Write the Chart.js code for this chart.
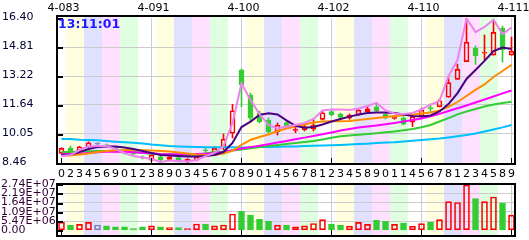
<!DOCTYPE html>
<html>
<head>
<meta charset="utf-8">
<script src="https://cdn.jsdelivr.net/npm/chart.js@4.4.0/dist/chart.umd.min.js"></script>
<style>
  html, body { margin: 0; padding: 0; background: #fff; }
  #wrap { position: relative; width: 529px; height: 240px; }
  canvas { position: absolute; left: 0; top: 0; }
</style>
</head>
<body>
<div id="wrap">
  <canvas id="priceChart" width="529" height="240"></canvas>
  <canvas id="volChart" width="529" height="240"></canvas>
</div>
<script>
// last digit of each trading day
const days = ['0','2','3','4','5','6','9','0','1','2','3','8','9','0',
  '3','4','5','6','7','0','8','9','0','1','4','5','6','7','8','1','2','3','4',
  '5','8','9','0','1','1','4','5','6','7','8','1','2','3','4','5','8','9'];
// date labels over every 10th bar
const topLabels = ['4-083', '4-091', '4-100', '4-102', '4-110', '4-111'];
const clockText = '13:11:01';

const opens  = [8.99,9.26,9.13,9.32,9.50,9.45,9.32,9.17,9.02,8.80,8.62,8.80,8.66,8.75,8.53,8.62,9.15,9.00,9.28,10.09,13.55,12.18,11.20,10.81,10.17,10.67,10.25,10.27,10.31,10.85,11.27,11.14,10.91,11.09,11.27,11.54,11.14,10.90,10.92,10.69,11.03,11.47,11.54,12.06,13.04,14.01,14.74,14.48,14.37,15.84,14.37];
const highs  = [9.30,9.39,9.38,9.62,9.57,9.50,9.35,9.20,9.05,8.85,8.95,8.85,8.85,8.80,8.70,8.85,9.26,9.35,10.05,11.67,13.61,12.29,11.30,10.92,10.65,10.75,10.45,10.54,10.91,11.31,11.35,11.20,11.15,11.45,11.53,11.69,11.20,11.05,10.98,11.03,11.47,11.69,11.96,13.19,13.88,16.40,14.87,15.47,16.29,15.96,15.36];
const lows   = [8.95,9.10,9.10,9.30,9.39,9.35,9.12,8.95,8.92,8.68,8.55,8.48,8.60,8.52,8.48,8.58,9.05,8.95,9.17,9.83,11.54,10.72,10.65,10.10,9.99,10.40,10.12,10.21,10.21,10.81,11.05,10.90,10.85,11.05,11.20,11.25,10.87,10.85,10.54,10.45,10.98,11.27,11.53,12.06,13.04,14.01,13.86,14.10,14.37,13.99,14.37];
const closes = [9.26,9.13,9.35,9.57,9.50,9.39,9.17,8.99,8.96,8.72,8.90,8.62,8.80,8.59,8.66,8.80,9.13,9.26,9.77,11.32,12.73,10.91,10.72,10.17,10.54,10.45,10.27,10.45,10.54,11.21,11.09,10.96,11.09,11.36,11.42,11.32,10.91,10.98,10.58,11.00,11.36,11.44,11.87,12.86,13.59,15.07,14.34,14.51,15.61,14.65,14.59];
const volumes = [4.8e6,3.2e6,3.6e6,4.7e6,3.2e6,2.7e6,2.1e6,2.1e6,1.1e6,2.1e6,2.7e6,2.1e6,1.6e6,1.6e6,1.1e6,3.8e6,3.8e6,2.7e6,3.2e6,9.7e6,11.3e6,9.1e6,6.6e6,5.4e6,3.1e6,3.2e6,2.1e6,2.7e6,4.1e6,6.4e6,3.8e6,3.2e6,2.5e6,4.7e6,3.6e6,5.9e6,5.4e6,3.6e6,4.3e6,2.5e6,4.0e6,4.8e6,6.4e6,17.0e6,16.5e6,26.8e6,18.8e6,17.0e6,19.7e6,16.1e6,9.0e6];

// moving average lines, fastest first
const maFast = [8.84,8.90,9.17,9.36,9.39,9.39,9.23,9.01,8.84,8.76,8.68,8.52,8.60,8.57,8.54,8.62,8.84,9.01,9.39,10.65,12.81,11.91,11.14,10.54,10.35,10.46,10.54,10.65,10.87,11.34,11.39,11.39,11.36,11.44,11.58,11.75,11.34,11.17,11.14,11.20,11.39,11.66,11.86,13.22,14.10,16.37,15.63,15.91,16.31,15.52,15.88];
const ma5  = [8.90,8.93,9.06,9.23,9.34,9.36,9.36,9.31,9.23,9.12,9.01,8.90,8.87,8.84,8.82,8.82,8.84,8.90,9.06,9.56,10.43,10.73,11.09,11.18,11.12,10.79,10.49,10.39,10.43,10.57,10.73,10.87,11.00,11.12,11.20,11.23,11.23,11.20,11.12,11.03,11.00,11.06,11.28,11.69,12.29,13.06,13.55,14.05,14.59,14.78,14.70];
const ma10 = [8.87,8.87,8.93,8.98,9.06,9.12,9.16,9.17,9.17,9.16,9.14,9.12,9.09,9.03,8.98,8.93,8.90,8.90,8.98,9.12,9.45,9.72,9.88,10.02,10.21,10.35,10.46,10.57,10.68,10.73,10.74,10.74,10.76,10.82,10.87,10.92,10.98,11.03,11.08,11.12,11.17,11.23,11.34,11.53,11.80,12.13,12.46,12.76,13.17,13.50,13.83];
const ma20 = [8.95,8.95,8.97,9.01,9.05,9.07,9.08,9.07,9.05,9.02,9.00,8.95,8.94,8.94,8.94,8.95,8.97,8.99,9.06,9.16,9.25,9.33,9.41,9.49,9.58,9.66,9.76,9.85,9.94,10.03,10.13,10.24,10.32,10.40,10.46,10.51,10.58,10.65,10.73,10.81,10.90,11.02,11.15,11.31,11.46,11.61,11.77,11.94,12.10,12.27,12.43];
const ma30 = [9.06,9.06,9.09,9.11,9.12,9.12,9.11,9.09,9.06,9.01,8.97,8.94,8.93,8.91,8.90,8.93,8.98,9.06,9.09,9.14,9.20,9.27,9.33,9.39,9.45,9.50,9.56,9.61,9.66,9.75,9.84,9.92,9.97,10.01,10.05,10.09,10.14,10.19,10.25,10.32,10.42,10.54,10.73,10.92,11.12,11.28,11.42,11.55,11.66,11.75,11.82];
const ma60 = [9.77,9.77,9.73,9.72,9.70,9.66,9.63,9.60,9.57,9.53,9.47,9.43,9.39,9.37,9.35,9.34,9.32,9.32,9.32,9.32,9.31,9.31,9.33,9.34,9.35,9.36,9.37,9.39,9.40,9.42,9.43,9.45,9.47,9.50,9.52,9.55,9.58,9.60,9.64,9.68,9.72,9.76,9.80,9.86,9.92,9.99,10.07,10.18,10.29,10.41,10.54];

const priceTicks = [8.46, 10.05, 11.64, 13.22, 14.81, 16.40];
const volTicks = [0, 5.47e6, 1.09e7, 1.64e7, 2.19e7, 2.74e7];
const volTickLabels = ['0.00', '5.47E+06', '1.09E+07', '1.64E+07', '2.19E+07', '2.74E+07'];

const UP = '#ff0000', DOWN = '#32cd32', FLAT = '#8080a8';
const bandColors = ['#ffffff', '#ffffe0', '#e0e0ff', '#ffe0ff', '#e0ffe0'];
const gridColor = '#cccccc';
const none = 'rgba(0,0,0,0)';
const FONT = '"DejaVu Sans", Verdana, sans-serif';

Chart.defaults.font.family = FONT;
Chart.defaults.font.size = 11;
Chart.defaults.color = '#000';
Chart.defaults.animation = false;

const dir = closes.map((c, i) => Math.sign(c - opens[i]));
const candleColor = dir.map(d => d > 0 ? UP : d < 0 ? DOWN : FLAT);
const candleFill = dir.map(d => d < 0 ? DOWN : none);

// background bands, frame, inner ticks, captions
const panel = {
  id: 'panel',
  beforeDraw(chart, args, opts) {
    const { ctx, scales: { x } } = chart;
    const step = x.getPixelForValue(1) - x.getPixelForValue(0);
    ctx.save();
    days.forEach((d, i) => {
      ctx.fillStyle = bandColors[Math.floor((i + 1) / 2) % 5];
      ctx.fillRect(x.getPixelForValue(i) - step / 2, opts.top, step, opts.bottom - opts.top);
    });
    ctx.restore();
  },
  afterDraw(chart, args, opts) {
    const { ctx, chartArea: a, scales: { x, y } } = chart;
    ctx.save();
    ctx.strokeStyle = '#000';
    ctx.lineWidth = 2;
    ctx.strokeRect(a.left, opts.top, opts.right - a.left, opts.bottom - opts.top);
    ctx.beginPath();
    y.ticks.forEach(t => {
      const py = Math.round(y.getPixelForValue(t.value)) + 1;
      ctx.moveTo(a.left, py);
      ctx.lineTo(a.left + 6, py);
    });
    ctx.stroke();
    ctx.lineWidth = 1;
    ctx.beginPath();
    days.forEach((d, i) => {
      if (i % 10 !== 0) return;
      const px = Math.floor(x.getPixelForValue(i)) + 0.5;
      ctx.moveTo(px, opts.bottom);
      ctx.lineTo(px, opts.bottom - 6);
    });
    ctx.stroke();
    if (opts.dates) {
      ctx.font = '11px ' + FONT;
      ctx.fillStyle = '#000';
      ctx.textAlign = 'left';
      ctx.textBaseline = 'middle';
      topLabels.forEach((t, k) => ctx.fillText(t, x.getPixelForValue(k * 10) - 14, 8));
    }
    if (opts.clock) {
      ctx.font = 'bold 12.5px ' + FONT;
      ctx.fillStyle = '#1a1aff';
      ctx.textAlign = 'left';
      ctx.textBaseline = 'top';
      ctx.fillText(opts.clock, a.left + 1, opts.top + 2);
    }
    ctx.restore();
  }
};

function line(data, color, order) {
  return { type: 'line', data, borderColor: color, borderWidth: 2, pointRadius: 0, tension: 0, fill: false, order };
}

new Chart(document.getElementById('priceChart'), {
  type: 'bar',
  data: {
    labels: days,
    datasets: [
      line(maFast, '#ee82ee', 1),
      line(ma5, '#4b0082', 2),
      line(ma10, '#ff8c00', 3),
      line(ma20, '#ff00ff', 4),
      line(ma30, '#32cd32', 5),
      line(ma60, '#00bfff', 6),
      { data: days.map((d, i) => [opens[i], closes[i]]), backgroundColor: candleFill, borderColor: candleColor,
        borderWidth: 1, borderSkipped: false, barThickness: 5, minBarLength: 1, grouped: false, order: 10 },
      { data: days.map((d, i) => [Math.max(opens[i], closes[i]), highs[i]]), backgroundColor: candleColor,
        barThickness: 1, grouped: false, order: 11 },
      { data: days.map((d, i) => [lows[i], Math.min(opens[i], closes[i])]), backgroundColor: candleColor,
        barThickness: 1, grouped: false, order: 11 }
    ]
  },
  options: {
    responsive: false,
    layout: { autoPadding: false, padding: { left: 2, right: 13, top: 18, bottom: 0 } },
    plugins: { legend: { display: false }, tooltip: { enabled: false },
      panel: { top: 16, bottom: 164, right: 515, clock: clockText, dates: true } },
    scales: {
      x: {
        type: 'category', position: 'bottom', offset: true,
        grid: { offset: false, drawTicks: false, color: c => (c.index % 10 === 0 && c.index > 0) ? gridColor : none },
        border: { display: false },
        ticks: { autoSkip: false, maxRotation: 0, minRotation: 0, padding: 5 },
        afterFit: s => { s.height = 77; }
      },
      y: {
        type: 'linear', position: 'left', min: priceTicks[0], max: priceTicks[priceTicks.length - 1],
        afterBuildTicks: s => { s.ticks = priceTicks.map(v => ({ value: v })); },
        grid: { drawTicks: false, color: c => (c.index > 0 && c.index < priceTicks.length - 1) ? gridColor : none },
        border: { display: false },
        ticks: { autoSkip: false, crossAlign: 'far', labelOffset: -1, color: '#000033', callback: v => v.toFixed(2) },
        afterFit: s => { s.width = 55; }
      }
    }
  },
  plugins: [panel]
});

new Chart(document.getElementById('volChart'), {
  type: 'bar',
  data: {
    labels: days,
    datasets: [{
      data: volumes, backgroundColor: candleFill, borderColor: candleColor,
      borderWidth: 1, borderSkipped: false, barThickness: 6
    }]
  },
  options: {
    responsive: false,
    layout: { autoPadding: false, padding: { left: 1, right: 13, top: 184, bottom: 5 } },
    plugins: { legend: { display: false }, tooltip: { enabled: false },
      panel: { top: 184, bottom: 236, right: 515 } },
    scales: {
      x: {
        type: 'category', offset: true,
        grid: { offset: false, drawTicks: false, color: c => (c.index % 10 === 0 && c.index > 0) ? gridColor : none },
        border: { display: false },
        ticks: { display: false },
        afterFit: s => { s.height = 0; }
      },
      y: {
        type: 'linear', position: 'left', min: 0, max: volTicks[volTicks.length - 1],
        afterBuildTicks: s => { s.ticks = volTicks.map(v => ({ value: v })); },
        grid: { drawTicks: false, color: c => (c.index > 0 && c.index < volTicks.length - 1) ? gridColor : none },
        border: { display: false },
        ticks: { autoSkip: false, crossAlign: 'far', color: '#330033', callback: (v, i) => volTickLabels[i] },
        afterFit: s => { s.width = 56; }
      }
    }
  },
  plugins: [panel]
});
</script>
</body>
</html>
